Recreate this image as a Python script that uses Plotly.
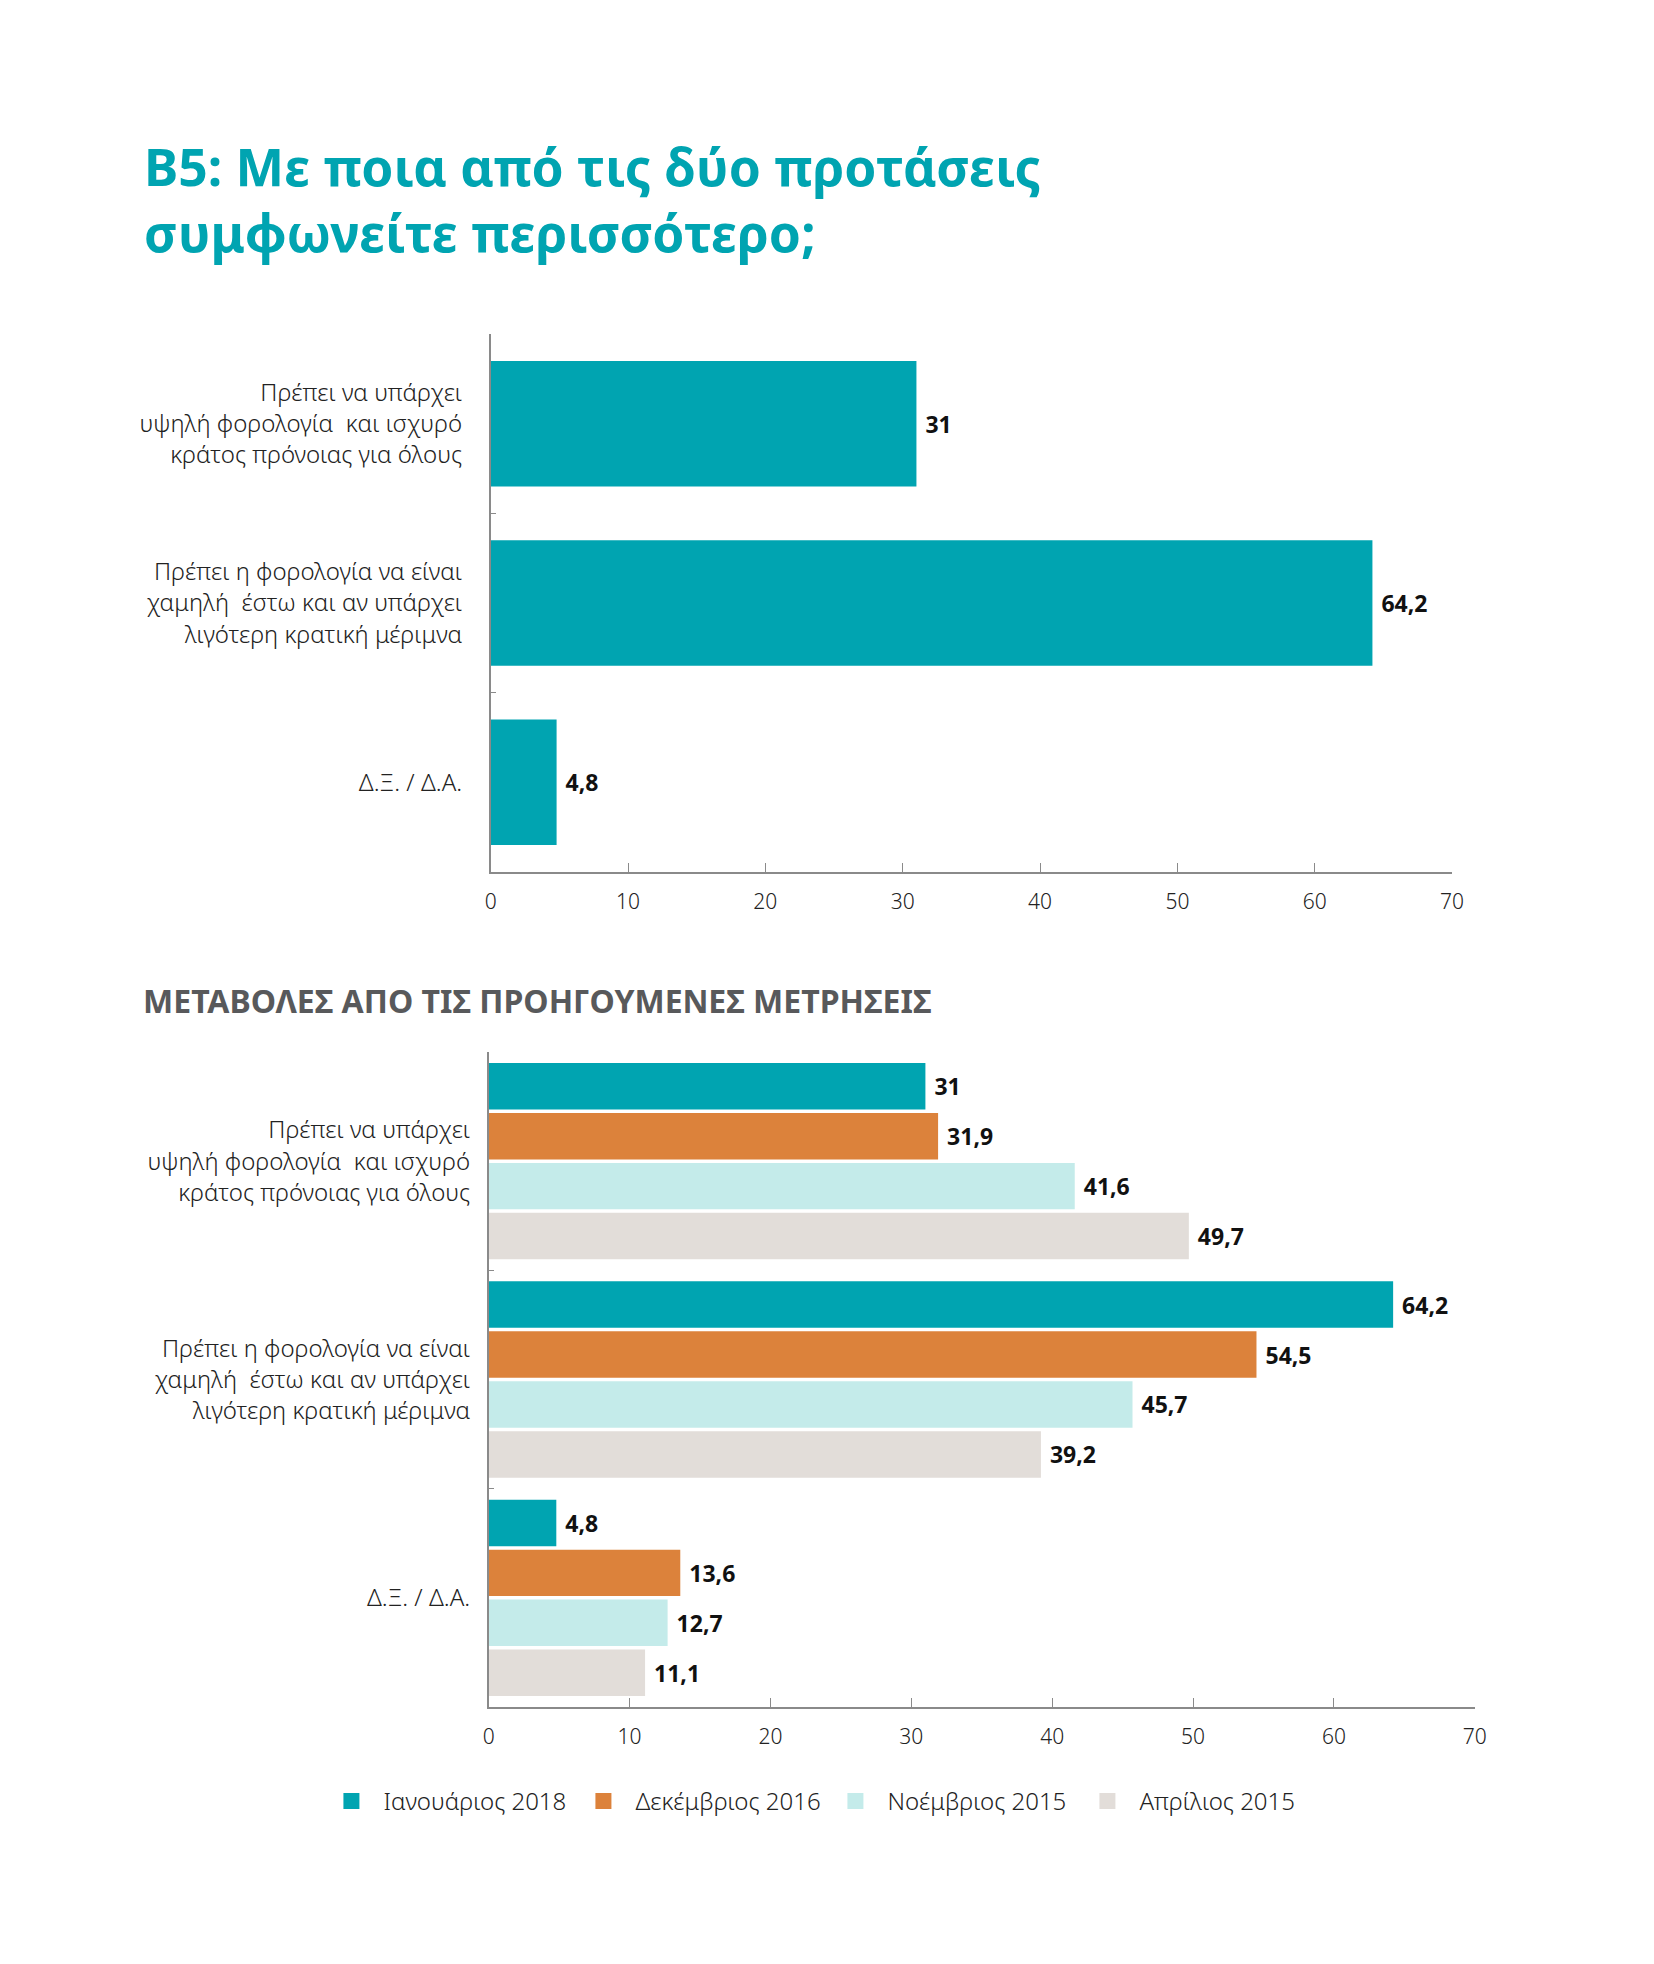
import plotly.graph_objects as go

categories = [
    "Πρέπει να υπάρχει<br>υψηλή φορολογία\u00a0 και ισχυρό<br>κράτος πρόνοιας για όλους",
    "Πρέπει η φορολογία να είναι<br>χαμηλή\u00a0 έστω και αν υπάρχει<br>λιγότερη κρατική μέριμνα",
    "Δ.Ξ. / Δ.Α.",
]
current_values = [31, 64.2, 4.8]

series_names = ["Ιανουάριος 2018", "Δεκέμβριος 2016", "Νοέμβριος 2015", "Απρίλιος 2015"]
series_values = [
    [31, 64.2, 4.8],
    [31.9, 54.5, 13.6],
    [41.6, 45.7, 12.7],
    [49.7, 39.2, 11.1],
]
series_colors = ["#00A4B1", "#DC823B", "#C4EBEA", "#E2DDD9"]
x_ticks = [0, 10, 20, 30, 40, 50, 60, 70]

title_lines = ["B5: Με ποια από τις δύο προτάσεις", "συμφωνείτε περισσότερο;"]
subtitle = "ΜΕΤΑΒΟΛΕΣ ΑΠΟ ΤΙΣ ΠΡΟΗΓΟΥΜΕΝΕΣ ΜΕΤΡΗΣΕΙΣ"

W, H = 1654, 1964
FONT = "Noto Sans, Open Sans, sans-serif"
TEAL = "#00A4B1"
AXIS_COL = "#8a8a8a"
LABEL_TPL = "\u00a0<b>%{x}</b>"

fig = go.Figure()

fig.add_trace(go.Bar(
    y=categories, x=current_values, orientation="h",
    marker=dict(color=TEAL, line=dict(width=0)),
    width=0.70,
    texttemplate=LABEL_TPL, textposition="outside",
    textfont=dict(size=23, color="#111111", family=FONT),
    cliponaxis=False, showlegend=False,
    xaxis="x", yaxis="y", hoverinfo="skip",
))

for name, vals, col in zip(series_names, series_values, series_colors):
    fig.add_trace(go.Bar(
        y=categories, x=vals, orientation="h", name=name,
        marker=dict(color=col, line=dict(width=0)),
        texttemplate=LABEL_TPL, textposition="outside",
        textfont=dict(size=23, color="#111111", family=FONT),
        cliponaxis=False, showlegend=False, legendgroup=name,
        xaxis="x2", yaxis="y2", hoverinfo="skip",
    ))

# legend entries (square swatches)
for name, col in zip(series_names, series_colors):
    fig.add_trace(go.Scatter(
        x=[None], y=[None], mode="markers", name="\u2002" + name, legendgroup=name,
        marker=dict(symbol="square", size=16, color=col),
        xaxis="x2", yaxis="y2", hoverinfo="skip",
    ))

def px_x(p):
    return p / W

def px_y(p):
    return 1 - p / H

xaxis_common = dict(
    range=[0, 70], tickvals=x_ticks, ticks="inside", ticklen=9, tickcolor=AXIS_COL,
    tickwidth=1, showline=True, linecolor=AXIS_COL, linewidth=1.5, showgrid=False,
    zeroline=False, tickfont=dict(size=21, color="#222222", family=FONT, weight=300),
    ticklabelstandoff=10, fixedrange=True,
)
yaxis_common = dict(
    type="category", range=[2.5, -0.5], ticks="inside", tickson="boundaries",
    ticklen=6, tickcolor=AXIS_COL, showline=True, linecolor=AXIS_COL, linewidth=1.5,
    showgrid=False, zeroline=False,
    tickfont=dict(size=24, color="#222222", family=FONT, weight=300), fixedrange=True,
)

fig.update_layout(
    width=W, height=H,
    margin=dict(l=0, r=0, t=0, b=0),
    paper_bgcolor="white", plot_bgcolor="white",
    separators=",.",
    barmode="group", bargap=0.085, bargroupgap=0.07,
    font=dict(family=FONT, color="#222222"),
    xaxis=dict(domain=[px_x(490), px_x(1462)], anchor="y", **xaxis_common),
    yaxis=dict(domain=[px_y(872), px_y(334)], anchor="x", ticklabelstandoff=22, **yaxis_common),
    xaxis2=dict(domain=[px_x(488), px_x(1485)], anchor="y2", **xaxis_common),
    yaxis2=dict(domain=[px_y(1707), px_y(1052)], anchor="x2", ticklabelstandoff=12, **yaxis_common),
    legend=dict(
        orientation="h", x=px_x(329), y=px_y(1779), xanchor="left", yanchor="top",
        font=dict(size=24, color="#222222", family=FONT, weight=300),
        entrywidth=207, entrywidthmode="pixels",
        traceorder="normal", itemclick=False, itemdoubleclick=False,
    ),
    annotations=[
        dict(text="<b>" + title_lines[0] + "</b>", x=px_x(138), y=px_y(166), xref="paper", yref="paper",
             xanchor="left", yanchor="middle", showarrow=False,
             font=dict(size=51.5, color=TEAL, family=FONT)),
        dict(text="<b>" + title_lines[1] + "</b>", x=px_x(138), y=px_y(232), xref="paper", yref="paper",
             xanchor="left", yanchor="middle", showarrow=False,
             font=dict(size=51.5, color=TEAL, family=FONT)),
        dict(text="<b>" + subtitle + "</b>", x=px_x(136), y=px_y(1001), xref="paper", yref="paper",
             xanchor="left", yanchor="middle", showarrow=False,
             font=dict(size=32, color="#58595B", family=FONT)),
    ],
)

fig.write_html(
    "out.html",
    config={"displayModeBar": False},
    post_script="document.body.style.margin='0';document.body.style.overflow='hidden';",
)
